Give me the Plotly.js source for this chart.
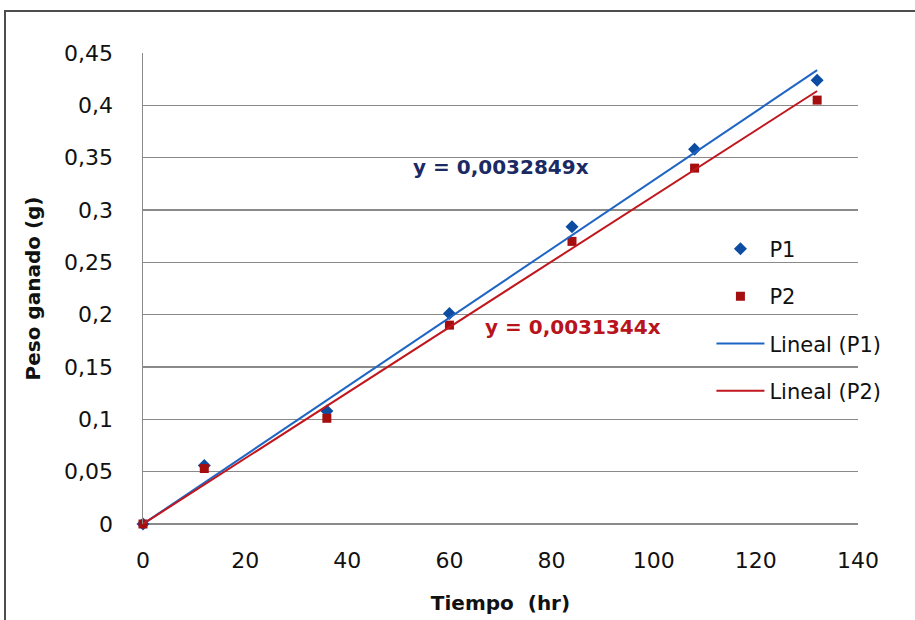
<!DOCTYPE html>
<html>
<head>
<meta charset="utf-8">
<script src="https://cdn.plot.ly/plotly-3.0.1.min.js"></script>
<style>
html,body{margin:0;padding:0;background:#fff;}
#chart{position:absolute;left:0;top:0;width:915px;height:620px;}
#frame{position:absolute;left:4px;top:10px;width:1000px;height:700px;border:2px solid #4d4d4d;pointer-events:none;}
</style>
</head>
<body>
<div id="chart"></div>
<div id="frame"></div>
<script>
const tiempo = [0, 12, 36, 60, 84, 108, 132];
const p1 = [0, 0.056, 0.108, 0.201, 0.284, 0.358, 0.424];
const p2 = [0, 0.053, 0.101, 0.190, 0.270, 0.340, 0.405];
const fitX = [0, 132];
const fitP1 = [0, 0.4336];
const fitP2 = [0, 0.4137];
const eqP1 = "y = 0,0032849x";
const eqP2 = "y = 0,0031344x";
const yTickVals = [0, 0.05, 0.1, 0.15, 0.2, 0.25, 0.3, 0.35, 0.4, 0.45];
const yTickText = ["0", "0,05", "0,1", "0,15", "0,2", "0,25", "0,3", "0,35", "0,4", "0,45"];
const xTickVals = [0, 20, 40, 60, 80, 100, 120, 140];

const blueM = "#0c4da2", redM = "#a50e0e", blueL = "#1f66c4", redL = "#c0161c";
const fontFam = "DejaVu Sans, sans-serif";

const traces = [
  {x: tiempo, y: p1, name: "P1", mode: "markers", type: "scatter", cliponaxis: false,
   marker: {symbol: "diamond", size: 10, color: blueM}, legendgroup: "a"},
  {x: tiempo, y: p2, name: "P2", mode: "markers", type: "scatter", cliponaxis: false,
   marker: {symbol: "square", size: 9, color: redM}, legendgroup: "b"},
  {x: fitX, y: fitP1, name: "Lineal (P1)", mode: "lines", type: "scatter",
   line: {color: blueL, width: 2}, legendgroup: "c"},
  {x: fitX, y: fitP2, name: "Lineal (P2)", mode: "lines", type: "scatter",
   line: {color: redL, width: 2}, legendgroup: "d"}
];

const layout = {
  width: 915, height: 620,
  margin: {l: 143, r: 57, t: 53, b: 96},
  paper_bgcolor: "#ffffff", plot_bgcolor: "#ffffff",
  font: {family: fontFam, size: 20, color: "#111111"},
  showlegend: true,
  legend: {x: 0.795, y: 0.627, xanchor: "left", yanchor: "top",
           bgcolor: "rgba(0,0,0,0)", font: {family: fontFam, size: 21, color: "#111111"},
           traceorder: "grouped", tracegroupgap: 17, itemwidth: 48},
  xaxis: {range: [0, 140], tickvals: xTickVals, ticks: "", showgrid: false,
          showline: false, zeroline: false, ticklabelstandoff: 21,
          tickfont: {family: fontFam, size: 22, color: "#111111"},
          title: {text: "<b>Tiempo  (hr)</b>", standoff: 23,
                  font: {family: fontFam, size: 20, color: "#111111"}}},
  yaxis: {range: [0, 0.45], tickvals: yTickVals, ticktext: yTickText, ticks: "",
          showgrid: true, gridcolor: "#8a8a8a", gridwidth: 1.5,
          showline: true, linecolor: "#8a8a8a", linewidth: 1.5,
          zeroline: true, zerolinecolor: "#8a8a8a", zerolinewidth: 1.5,
          ticklabelstandoff: 24,
          tickfont: {family: fontFam, size: 22, color: "#111111"},
          title: {text: "<b>Peso ganado (g)</b>", standoff: 18,
                  font: {family: fontFam, size: 20, color: "#111111"}}},
  annotations: [
    {x: 70, y: 0.341, xref: "x", yref: "y", text: "<b>" + eqP1 + "</b>", showarrow: false,
     font: {family: fontFam, size: 20, color: "#1b2a63"}},
    {x: 84.2, y: 0.188, xref: "x", yref: "y", text: "<b>" + eqP2 + "</b>", showarrow: false,
     font: {family: fontFam, size: 20, color: "#b8141c"}}
  ]
};

Plotly.newPlot("chart", traces, layout, {displayModeBar: false, staticPlot: true});
</script>
</body>
</html>
